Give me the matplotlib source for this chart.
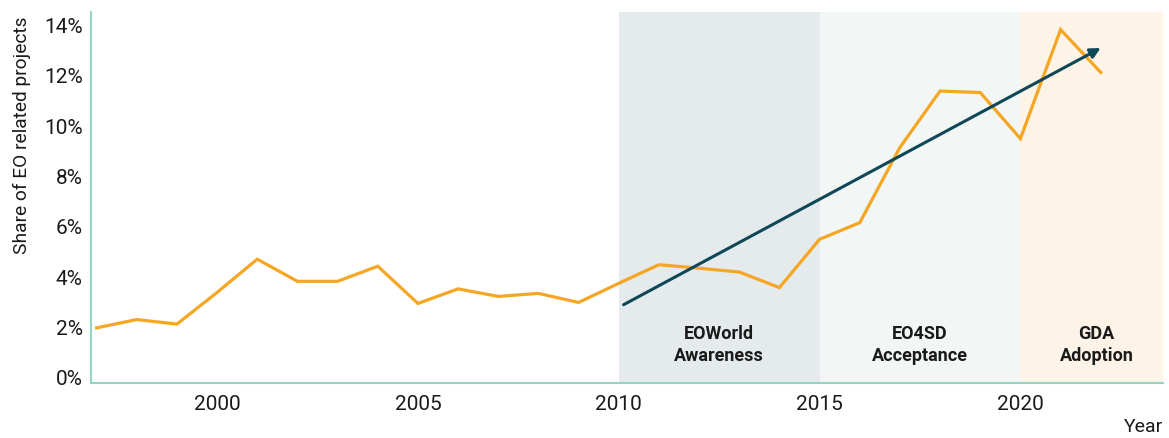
import matplotlib
matplotlib.use("Agg")
import matplotlib.pyplot as plt

plt.rcParams['font.family'] = ['Roboto', 'DejaVu Sans']

years = list(range(1997, 2023))
share = [1.95, 2.28, 2.10, 3.36, 4.68, 3.80, 3.80, 4.40, 2.92, 3.50,
         3.20, 3.32, 2.96, 3.72, 4.46, 4.32, 4.17, 3.55, 5.47, 6.13,
         9.12, 11.36, 11.30, 9.47, 13.80, 12.10]

trend_start = (2010.12, 2.87)
trend_end = (2022.0, 13.07)

phases = [(2010, 2015, "EOWorld\nAwareness", "#e5eaed", 2012.5),
          (2015, 2020, "EO4SD\nAcceptance", "#f2f7f5", 2017.5),
          (2020, 2023.6, "GDA\nAdoption", "#fdf4e7", 2021.9)]

yticks = [0, 2, 4, 6, 8, 10, 12, 14]
ytick_labels = [f"{v}%" for v in yticks]
xticks = [2000, 2005, 2010, 2015, 2020]

fig = plt.figure(figsize=(11.69, 4.39), dpi=100)
ax = fig.add_axes([91/1169, 1 - 384/439, (1163 - 91)/1169, (384 - 13)/439])

ax.set_xlim(1996.86, 2023.55)
ax.set_ylim(-0.24, 14.5)

for x0, x1, label, color, xc in phases:
    ax.axvspan(x0, x1, color=color, zorder=0, lw=0)
    ax.text(xc, 1.3, label, ha='center', va='center', fontsize=13,
            fontweight='bold', color='#1a1a1a', linespacing=1.3)

ax.plot(years, share, color='#f5a623', lw=2.3, zorder=3, solid_joinstyle='miter')

ax.annotate("", xy=trend_end, xytext=trend_start,
            arrowprops=dict(arrowstyle='-|>,head_length=0.6,head_width=0.3',
                            color='#0e4758', lw=2.2, shrinkA=0, shrinkB=0),
            zorder=4)

ax.set_yticks(yticks)
ax.set_yticklabels(ytick_labels)
ax.set_xticks(xticks)
ax.set_xticklabels([str(x) for x in xticks])
ax.tick_params(axis='both', length=0, labelsize=15, colors='#1a1a1a')
ax.tick_params(axis='x', pad=8)
ax.tick_params(axis='y', pad=6)

for side in ['top', 'right']:
    ax.spines[side].set_visible(False)
for side in ['left', 'bottom']:
    ax.spines[side].set_color('#92d5c0')
    ax.spines[side].set_linewidth(1.5)

fig.text(22/1169, 1 - 17/439, "Share of EO related projects", rotation=90,
         ha='center', va='top', fontsize=13.8, color='#1a1a1a')
fig.text(1163/1169, 1 - 427/439, "Year", ha='right', va='center',
         fontsize=14, color='#1a1a1a')

fig.savefig("out.png", dpi=100)
